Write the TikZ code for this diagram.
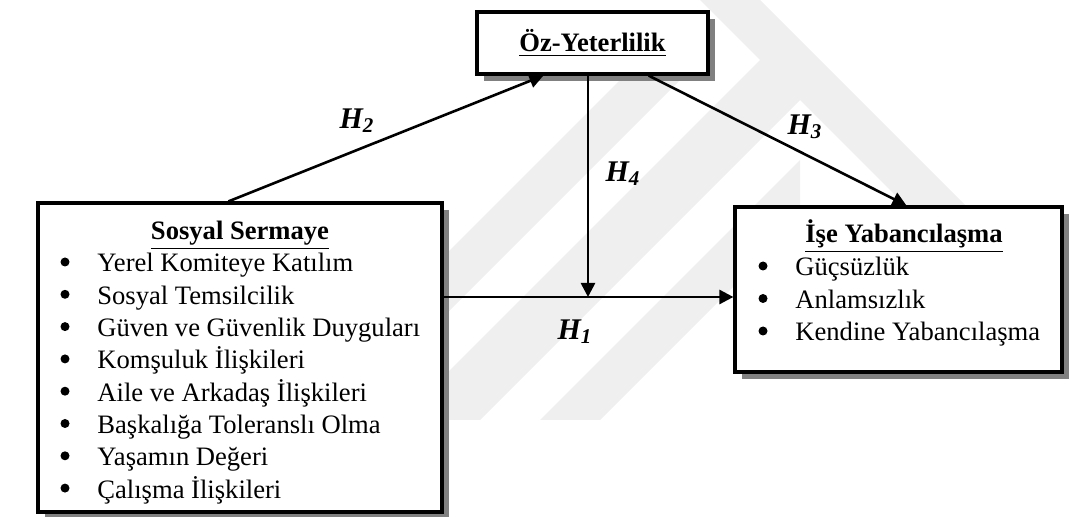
\documentclass[tikz,border=0pt]{standalone}
\usepackage{fontspec}
\setmainfont{Liberation Serif}
\usetikzlibrary{arrows.meta,shadows}
\definecolor{wmark}{HTML}{EFEFEF}
\tikzset{
  >=Triangle,
  box/.style={rectangle, draw, line width=1.6pt, fill=white, inner sep=0pt,
    drop shadow={shadow xshift=3.5pt, shadow yshift=-3.5pt, fill=gray, opacity=1}},
  link/.style={-{Triangle[length=7pt,width=7pt]}, line width=1.3pt},
  ttl/.style={font=\fontsize{13.3}{16}\selectfont\bfseries, anchor=base, inner sep=0pt},
  item/.style={font=\fontsize{13.3}{16}\selectfont, anchor=base west, inner sep=0pt},
  dot/.style={circle, fill=black, inner sep=0pt, minimum size=4.5pt},
  hyp/.style={font=\fontsize{15}{18}\selectfont\bfseries\itshape}
}
\begin{document}
\begin{tikzpicture}[x=0.5pt, y=-0.5pt]
    \useasboundingbox (0,0) rectangle (1070,517);

    % watermark
    \begin{scope}
      \clip (380,60) rectangle (800,420);
      \fill[wmark] (700,0) -- (760,0) -- (243,517) -- (183,517) -- cycle;
      \fill[wmark] (820,0) -- (900,0) -- (383,517) -- (303,517) -- cycle;
      \fill[wmark] (960,0) -- (1020,0) -- (503,517) -- (443,517) -- cycle;
    \end{scope}
    \begin{scope}
      \clip (700,0) rectangle (1010,300);
      \fill[wmark] (700,0) -- (760,0) -- (1060,300) -- (1000,300) -- cycle;
    \end{scope}

    % Oz-Yeterlilik
    \node[box, minimum width=115.5pt, minimum height=31pt, font=\fontsize{13.3}{16}\selectfont\bfseries]
      (oz) at (592.5,43) {\underline{Öz-Yeterlilik}};

    % Sosyal Sermaye
    \node[box, minimum width=202pt, minimum height=154.5pt] (sos) at (240,357.5) {};
    \node[ttl] (sosT) at (240,240) {\underline{Sosyal Sermaye}};
    \node[dot] (sosd1) at (65,262.0) {};
    \node[item] (sos1) at (97,272.0) {Yerel Komiteye Katılım};
    \node[dot] (sosd2) at (65,294.3) {};
    \node[item] (sos2) at (97,304.3) {Sosyal Temsilcilik};
    \node[dot] (sosd3) at (65,326.6) {};
    \node[item] (sos3) at (97,336.6) {Güven ve Güvenlik Duyguları};
    \node[dot] (sosd4) at (65,358.9) {};
    \node[item] (sos4) at (97,368.9) {Komşuluk İlişkileri};
    \node[dot] (sosd5) at (65,391.2) {};
    \node[item] (sos5) at (97,401.2) {Aile ve Arkadaş İlişkileri};
    \node[dot] (sosd6) at (65,423.5) {};
    \node[item] (sos6) at (97,433.5) {Başkalığa Toleranslı Olma};
    \node[dot] (sosd7) at (65,455.8) {};
    \node[item] (sos7) at (97,465.8) {Yaşamın Değeri};
    \node[dot] (sosd8) at (65,488.1) {};
    \node[item] (sos8) at (97,498.1) {Çalışma İlişkileri};

    % Ise Yabancilasma
    \node[box, minimum width=163.5pt, minimum height=82.5pt] (ise) at (898.5,289.5) {};
    \node[ttl] (iseT) at (904,243) {\underline{İşe Yabancılaşma}};
    \node[dot] (ised1) at (763,266) {};
    \node[item] (ise1) at (795,276) {Güçsüzlük};
    \node[dot] (ised2) at (763,298.5) {};
    \node[item] (ise2) at (795,308.5) {Anlamsızlık};
    \node[dot] (ised3) at (763,331) {};
    \node[item] (ise3) at (795,341) {Kendine Yabancılaşma};

    % paths
    \coordinate (j) at (588,297);
    \draw[link] ([xshift=96pt]sos.north west) -- ([xshift=34pt]oz.south west);
    \draw[link] ([xshift=-30.5pt]oz.south east) -- ([xshift=86.5pt]ise.north west);
    \draw[link] (oz.south -| j) -- (j);
    \draw[link] (j -| sos.east) -- (j -| ise.west);

    % labels
    \node[hyp] (h2) at (357,121) {H\textsubscript{2}};
    \node[hyp] (h3) at (805,127) {H\textsubscript{3}};
    \node[hyp] (h4) at (623,174) {H\textsubscript{4}};
    \node[hyp] (h1) at (575,332) {H\textsubscript{1}};
\end{tikzpicture}
\end{document}
